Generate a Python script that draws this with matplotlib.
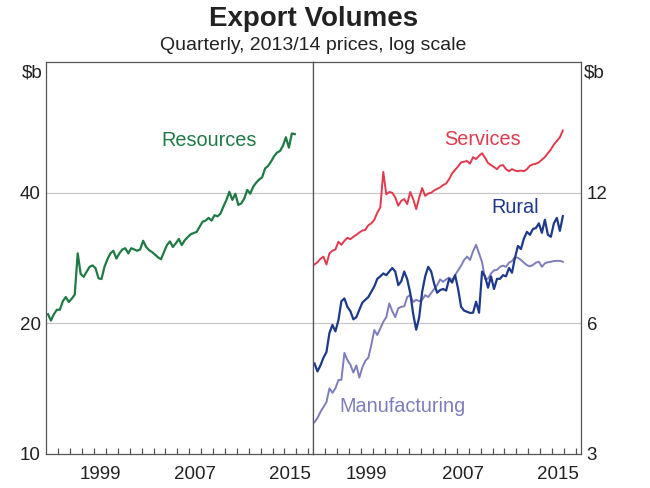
import numpy as np
import pandas as pd
import matplotlib.pyplot as plt

plt.rcParams['font.family'] = ['Liberation Sans', 'DejaVu Sans']

# quarterly data, 1995Q1 - 2015Q4, $b (2013/14 prices)
quarters = pd.period_range('1995Q1', '2015Q4', freq='Q')
t = np.asarray(quarters.year + (quarters.quarter - 0.5) / 4)

resources = [
    21.0, 20.3, 21.0, 21.5, 21.5, 22.5, 23.0, 22.4, 22.8, 23.3,
    29.0, 26.0, 25.6, 26.3, 27.0, 27.2, 26.8, 25.4, 25.3, 27.0,
    28.1, 29.0, 29.4, 28.2, 29.0, 29.6, 29.8, 29.0, 29.8, 29.6,
    29.4, 29.6, 31.0, 30.0, 29.5, 29.2, 28.8, 28.4, 28.1, 29.2,
    30.3, 30.9, 30.0, 30.6, 31.3, 30.3, 31.1, 31.6, 32.1, 32.3,
    32.5, 33.4, 34.3, 34.5, 35.0, 34.5, 35.5, 35.3, 35.8, 37.2,
    38.5, 40.2, 38.5, 39.8, 37.5, 37.8, 38.8, 40.6, 39.8, 41.3,
    42.2, 42.9, 43.4, 45.5, 46.1, 47.2, 48.5, 49.5, 49.9, 51.3,
    53.7, 50.8, 54.8, 54.6,
]
services = [
    8.2, 8.3, 8.45, 8.55, 8.2, 8.7, 8.82, 8.88, 9.25, 9.1,
    9.3, 9.45, 9.38, 9.5, 9.6, 9.72, 9.82, 9.85, 10.1, 10.2,
    10.4, 10.8, 11.1, 13.4, 11.9, 12.05, 12.0, 11.7, 11.2, 11.5,
    11.6, 11.3, 12.05, 11.6, 11.0, 11.7, 12.3, 11.8, 11.95, 12.0,
    12.15, 12.25, 12.35, 12.5, 12.6, 12.9, 13.3, 13.55, 13.8, 14.1,
    14.15, 14.2, 14.0, 14.5, 14.35, 14.6, 14.8, 14.45, 14.05, 13.9,
    13.75, 13.6, 13.85, 13.9, 13.6, 13.45, 13.6, 13.5, 13.45, 13.5,
    13.45, 13.6, 13.85, 13.95, 14.0, 14.1, 14.3, 14.5, 14.8, 15.1,
    15.5, 15.8, 16.1, 16.7,
]
rural = [
    4.85, 4.65, 4.8, 5.0, 5.15, 5.7, 5.95, 5.75, 6.1, 6.75,
    6.85, 6.55, 6.4, 6.13, 6.2, 6.45, 6.7, 6.8, 6.9, 7.1,
    7.3, 7.6, 7.7, 7.82, 7.75, 7.9, 8.05, 7.9, 7.35, 7.5,
    7.9, 7.58, 7.05, 6.3, 5.8, 6.2, 7.1, 7.7, 8.1, 7.9,
    7.4, 7.06, 7.16, 7.2, 7.14, 7.6, 7.45, 7.75, 7.2, 6.55,
    6.42, 6.38, 6.34, 6.35, 6.73, 6.35, 7.9, 7.7, 7.25, 7.7,
    7.2, 7.6, 7.6, 7.75, 7.7, 8.05, 7.85, 8.5, 9.05, 8.9,
    9.42, 9.75, 9.6, 9.9, 9.95, 10.2, 9.7, 10.4, 9.6, 9.5,
    10.2, 10.5, 9.8, 10.6,
]
manufacturing = [
    3.55, 3.63, 3.75, 3.85, 3.95, 4.25, 4.15, 4.25, 4.44, 4.45,
    5.13, 4.94, 4.82, 4.62, 4.8, 4.5, 4.75, 4.92, 5.0, 5.35,
    5.79, 5.64, 5.84, 6.05, 6.2, 6.67, 6.4, 6.2, 6.5, 6.55,
    6.57, 6.9, 6.97, 6.72, 6.8, 6.75, 6.8, 6.97, 6.9, 7.05,
    7.2, 7.35, 7.58, 7.48, 7.58, 7.65, 7.55, 7.75, 7.95, 8.15,
    8.4, 8.55, 8.4, 8.8, 9.1, 8.7, 8.3, 7.6, 7.6, 7.82,
    7.95, 7.97, 8.1, 8.15, 8.1, 8.28, 8.35, 8.52, 8.5, 8.4,
    8.28, 8.17, 8.12, 8.18, 8.28, 8.32, 8.1, 8.25, 8.3, 8.32,
    8.35, 8.36, 8.36, 8.32,
]

left_ticks = [10, 20, 40]
right_ticks = [3, 6, 12]
year_labels = [1999, 2007, 2015]

GREEN = '#1f7a45'
RED = '#e03a4e'
NAVY = '#1d3a8a'
LAVENDER = '#7d7dbd'
SPINE = '#555555'
GRID = '#c8c8c8'
TEXT = '#222222'

fig = plt.figure(figsize=(6.5, 4.88), dpi=100)
axL = fig.add_axes([0.0715, 0.0697, 0.410, 0.803])
axR = fig.add_axes([0.4815, 0.0697, 0.4125, 0.803])

axL.plot(t, resources, color=GREEN, lw=1.6)
axR.plot(t, services, color=RED, lw=1.4)
axR.plot(t, manufacturing, color=LAVENDER, lw=1.4)
axR.plot(t, rural, color=NAVY, lw=1.6)

for ax, lim, ticks in [(axL, (10, 80), left_ticks), (axR, (3, 24), right_ticks)]:
    ax.set_yscale('log')
    ax.set_ylim(*lim)
    ax.set_xlim(1995.0, 2017.4)
    ax.set_yticks(ticks)
    ax.set_yticklabels([str(v) for v in ticks])
    ax.yaxis.set_minor_locator(plt.NullLocator())
    ax.tick_params(axis='y', length=0, labelsize=13.5, pad=4, colors=TEXT)
    ax.set_xticks([y + 0.5 for y in year_labels])
    ax.set_xticklabels([str(y) for y in year_labels])
    ax.set_xticks(np.arange(1996, 2018), minor=True)
    ax.tick_params(axis='x', which='major', length=0, labelsize=13.5, pad=9, colors=TEXT)
    ax.tick_params(axis='x', which='minor', direction='in', length=4.5, width=0.9, color=SPINE)
    for g in ticks[1:]:
        ax.axhline(g, color=GRID, lw=0.9, zorder=0)
    for s in ax.spines.values():
        s.set_color(SPINE)
        s.set_linewidth(0.9)

axR.yaxis.tick_right()

axL.text(-0.015, 0.995, r'\$b', transform=axL.transAxes, ha='right', va='top',
         fontsize=13.5, color=TEXT)
axR.text(1.012, 0.995, r'\$b', transform=axR.transAxes, ha='left', va='top',
         fontsize=13.5, color=TEXT)

axL.text(2008.7, 52.9, 'Resources', color=GREEN, fontsize=14.3, ha='center', va='center')
axR.text(2009.2, 15.9, 'Services', color=RED, fontsize=14.3, ha='center', va='center')
axR.text(2011.9, 11.1, 'Rural', color=NAVY, fontsize=14.3, ha='center', va='center')
axR.text(2002.5, 3.85, 'Manufacturing', color=LAVENDER, fontsize=14.3, ha='center', va='center')

fig.text(0.482, 0.962, 'Export Volumes', ha='center', va='center',
         fontsize=20, fontweight='bold', color=TEXT)
fig.text(0.482, 0.906, 'Quarterly, 2013/14 prices, log scale', ha='center', va='center',
         fontsize=14, color=TEXT)

fig.savefig('out.png', dpi=100)
